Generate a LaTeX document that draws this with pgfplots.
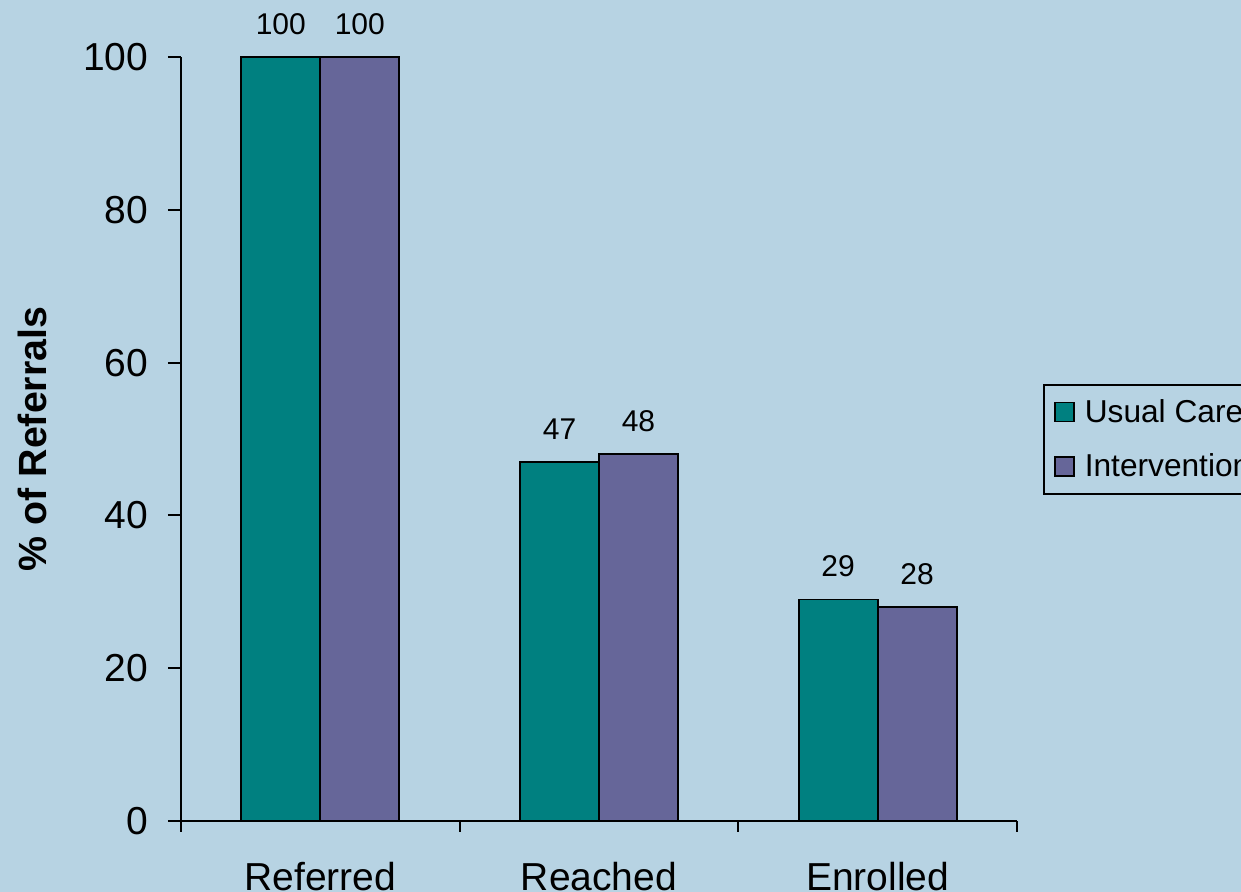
\documentclass[border=0pt]{standalone}
\usepackage{fontspec}
\setmainfont{Liberation Sans}
\usepackage{pgfplots}
\pgfplotsset{compat=1.18}
\definecolor{bgblue}{RGB}{183,211,227}
\definecolor{ucteal}{RGB}{0,128,128}
\definecolor{intpurple}{RGB}{102,102,153}

\begin{document}
\begin{tikzpicture}
\fill[bgblue] (-108.6pt,-42.6pt) rectangle (636pt,492.6pt);
\begin{scope}
\clip (-108.6pt,-42.6pt) rectangle (636pt,492.6pt);
\begin{axis}[
  at={(0,0)}, anchor=south west,
  scale only axis, width=501.6pt, height=458.4pt,
  ybar, bar width=0.283,
  xmin=-0.5, xmax=2.5, ymin=0, ymax=100,
  ytick={0,20,40,60,80,100},
  xtick={0,1,2}, xticklabels={Referred,Reached,Enrolled},
  minor xtick={-0.5,0.5,1.5,2.5},
  axis x line*=bottom, axis y line*=left,
  axis line style={black, line width=1.2pt},
  tick align=outside,
  major tick length=7.8pt, minor tick length=6.6pt,
  tick style={black, line width=1.2pt},
  major x tick style={draw=none},
  /pgf/number format/assume math mode=true,
  tick label style={font=\fontsize{23.4}{28}\selectfont},
  yticklabel style={xshift=-8.4pt},
  xticklabel style={yshift=-13.2pt},
  ylabel={\% of Referrals},
  ylabel style={font=\bfseries\fontsize{23.6}{28}\selectfont, at={(axis description cs:-0.178,0.5)}, anchor=center},
  nodes near coords,
  every node near coord/.append style={font=\fontsize{18}{21}\selectfont, anchor=south, inner sep=0pt, yshift=13pt},
  legend style={at={(rel axis cs:1.0311,0.572)}, anchor=north west, draw=black, line width=1.2pt, fill=none,
    font=\fontsize{19}{22}\selectfont, row sep=13.4pt, column sep=4.2pt, inner xsep=6pt, inner ysep=6.6pt},
  legend cell align=left,
]
\addplot[fill=ucteal, draw=black, line width=1.1pt, bar shift=-0.1417,
  legend image code/.code={\draw[fill=ucteal, draw=black, line width=0.9pt] (0pt,-5.7pt) rectangle (11.4pt,5.7pt);}]
  coordinates {(0,100) (1,47) (2,29)};
\addplot[fill=intpurple, draw=black, line width=1.1pt, bar shift=0.1417,
  legend image code/.code={\draw[fill=intpurple, draw=black, line width=0.9pt] (0pt,-5.7pt) rectangle (11.4pt,5.7pt);}]
  coordinates {(0,100) (1,48) (2,28)};
\legend{Usual Care, Intervention}
\end{axis}
\end{scope}
\pgfresetboundingbox
\useasboundingbox (-108.6pt,-42.6pt) rectangle (636pt,492.6pt);
\end{tikzpicture}
\end{document}
